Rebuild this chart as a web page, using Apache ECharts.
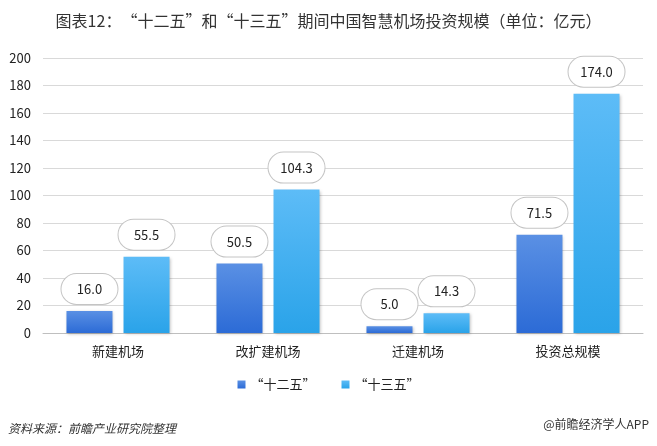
<!DOCTYPE html>
<html><head><meta charset="utf-8">
<script src="https://cdn.jsdelivr.net/npm/echarts@6/dist/echarts.min.js"></script>
<style>html,body{margin:0;padding:0;background:#fff}#c{width:657px;height:446px}</style>
</head><body><div id="c"></div>
<script>
const categories = ['新建机场', '改扩建机场', '迁建机场', '投资总规模'];
const seriesNames = ['“十二五”', '“十三五”'];
const values12 = [16.0, 50.5, 5.0, 71.5];
const values13 = [55.5, 104.3, 14.3, 174.0];
const yTicks = [0, 200, 20];

const chart = echarts.init(document.getElementById('c'));
const font = '"Noto Sans CJK SC", "Microsoft YaHei", sans-serif';
function grad(top, bottom) {
  return new echarts.graphic.LinearGradient(0, 0, 0, 1, [{offset: 0, color: top}, {offset: 1, color: bottom}]);
}
const labelStyle = {
  show: true, position: 'top', distance: 7,
  formatter: p => p.value.toFixed(1),
  color: '#222', fontSize: 13, fontFamily: font,
  backgroundColor: '#fff', borderColor: '#c4c4c4', borderWidth: 1,
  borderRadius: 15, width: 56, height: 30, lineHeight: 30, align: 'center'
};
chart.setOption({
  animation: false,
  title: {
    text: '图表12：“十二五”和“十三五”期间中国智慧机场投资规模（单位：亿元）',
    left: 'center', top: 8,
    textStyle: {fontSize: 16, fontWeight: 'normal', color: '#333', fontFamily: font}
  },
  legend: {
    data: seriesNames, bottom: 50, left: 'center', itemWidth: 8, itemHeight: 8, itemGap: 26,
    icon: 'rect',
    textStyle: {fontSize: 13, color: '#222', fontFamily: font}
  },
  grid: {left: 43, right: 14, top: 58, bottom: 113},
  xAxis: {
    type: 'category', data: categories,
    axisLine: {lineStyle: {color: '#bfbfbf', width: 1}},
    axisTick: {show: false},
    axisLabel: {fontSize: 13, color: '#222', margin: 12, fontFamily: font}
  },
  yAxis: {
    type: 'value', min: yTicks[0], max: yTicks[1], interval: yTicks[2],
    axisLine: {show: false}, axisTick: {show: false},
    axisLabel: {fontSize: 13, color: '#222', margin: 12, fontFamily: font},
    splitLine: {lineStyle: {color: '#d9d9d9'}}
  },
  series: [
    {
      name: seriesNames[0], type: 'bar', data: values12, barWidth: 46, barGap: '24%',
      itemStyle: {color: grad('#5a90e4', '#2c6bd6'), shadowColor: 'rgba(0,0,0,0.25)', shadowBlur: 3, shadowOffsetX: 1, shadowOffsetY: 1},
      label: labelStyle
    },
    {
      name: seriesNames[1], type: 'bar', data: values13, barWidth: 46,
      itemStyle: {color: grad('#5dbcf7', '#2aa3e9'), shadowColor: 'rgba(0,0,0,0.25)', shadowBlur: 3, shadowOffsetX: 1, shadowOffsetY: 1},
      label: labelStyle
    }
  ],
  graphic: [
    {type: 'text', left: 8, bottom: 12, style: {text: '资料来源：前瞻产业研究院整理', fontSize: 12, fontStyle: 'italic', fill: '#333', fontFamily: font}},
    {type: 'text', right: 8, bottom: 16, style: {text: '@前瞻经济学人APP', fontSize: 12, fill: '#333', fontFamily: font}}
  ]
});
</script></body></html>
